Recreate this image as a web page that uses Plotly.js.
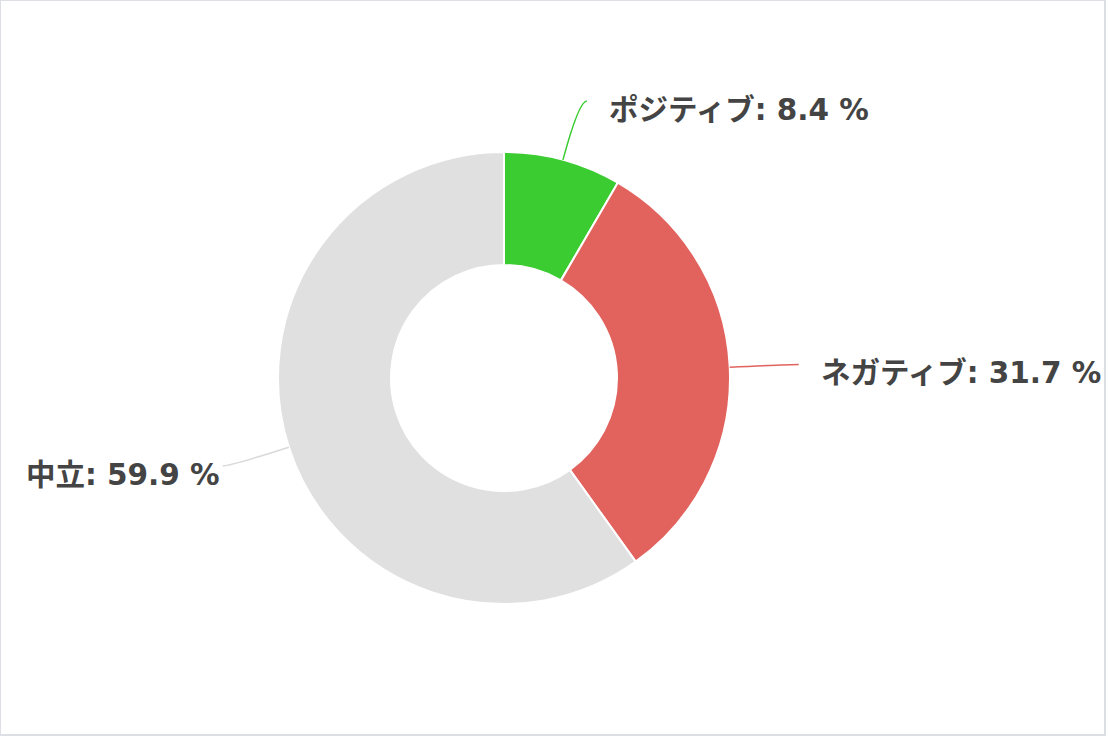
<!DOCTYPE html>
<html>
<head>
<meta charset="utf-8">
<script src="https://cdn.plot.ly/plotly-3.0.1.min.js"></script>
<style>
  html, body { margin: 0; padding: 0; background: #fff; }
  #wrap { position: relative; width: 1108px; height: 738px; }
  #myDiv { position: absolute; left: 0; top: 0; width: 1108px; height: 738px; }
  #frame { position: absolute; left: 0; top: 0; width: 1106px; height: 736px;
           border: 1px solid #dcdfe3; border-right-width: 2px; border-bottom-width: 2px;
           box-sizing: border-box; pointer-events: none; }
</style>
</head>
<body>
<div id="wrap">
  <div id="myDiv"></div>
  <div id="frame"></div>
</div>
<script>
var labels = ['ポジティブ', 'ネガティブ', '中立'];
var values = [8.4, 31.7, 59.9];
var colors = ['#3acc30', '#e2635e', '#e0e0e0'];
var lineColors = ['#3acc30', '#e2635e', '#d9d9d9'];

var W = 1108, H = 738;
var cx = 504, cy = 378, r = 226;
var labelR = 287;

function px(x) { return x / W }
function py(y) { return 1 - y / H }

var total = values.reduce(function (a, b) { return a + b }, 0);

var shapes = [];
var annotations = [];
var acc = 0;
for (var i = 0; i < values.length; i++) {
  var mid = (acc + values[i] / 2) / total * 2 * Math.PI;
  acc += values[i];
  var s = Math.sin(mid), c = Math.cos(mid);
  var side = s >= 0 ? 1 : -1;
  // edge of slice, bend point, end of connector
  var p = [cx + r * s, cy - r * c];
  var b = [cx + labelR * s, cy - labelR * c];
  var e = [b[0] + side * 8, b[1]];
  shapes.push({
    type: 'path', xref: 'paper', yref: 'paper',
    path: 'M ' + px(p[0]) + ' ' + py(p[1]) +
          ' Q ' + px(b[0]) + ' ' + py(b[1]) +
          ' ' + px(e[0]) + ' ' + py(e[1]),
    line: { color: lineColors[i], width: 1.5 }
  });
  annotations.push({
    xref: 'paper', yref: 'paper',
    x: px(e[0] + (side > 0 ? 20 : -1)), y: py(e[1] + 9),
    xanchor: side > 0 ? 'left' : 'right', yanchor: 'middle',
    text: labels[i] + ': ' + values[i].toFixed(1) + ' %',
    showarrow: false,
    font: { family: 'DejaVu Sans, Noto Sans CJK JP', size: 29.5, weight: 'bold', color: '#444444' }
  });
}

var trace1 = {
  type: 'pie',
  labels: labels,
  values: values,
  sort: false,
  direction: 'clockwise',
  rotation: 0,
  hole: 0.5,
  textinfo: 'none',
  hoverinfo: 'label+percent',
  marker: { colors: colors, line: { color: '#ffffff', width: 2 } },
  domain: { x: [px(cx - r), px(cx + r)], y: [py(cy + r), py(cy - r)] }
};

var layout = {
  width: W, height: H,
  margin: { l: 0, r: 0, t: 0, b: 0 },
  showlegend: false,
  paper_bgcolor: '#ffffff',
  shapes: shapes,
  annotations: annotations
};

Plotly.newPlot('myDiv', [trace1], layout, { displayModeBar: false });
</script>
</body>
</html>
